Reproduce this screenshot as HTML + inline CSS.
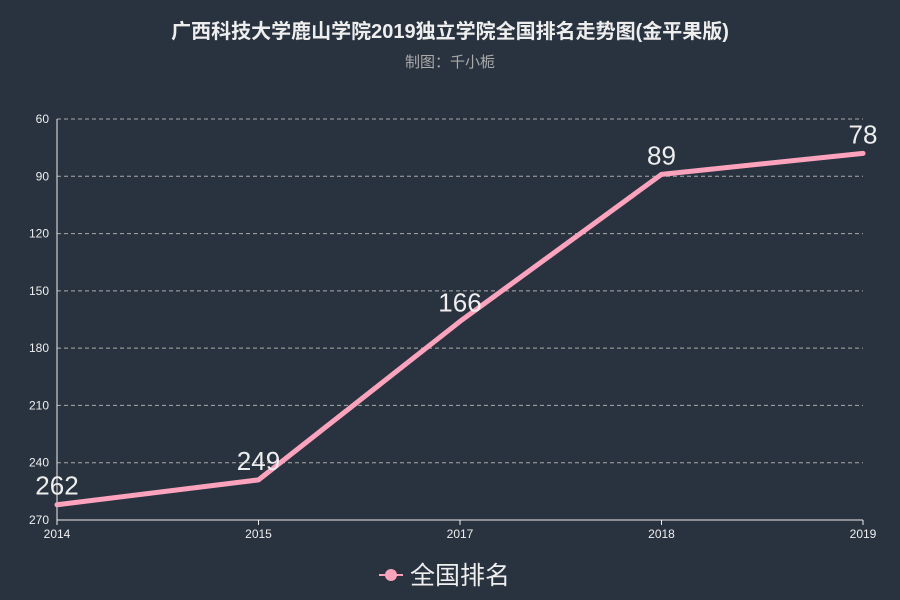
<!DOCTYPE html>
<html><head><meta charset="utf-8"><style>
body{margin:0;background:#29333f;}
svg{display:block;font-family:"Liberation Sans","Noto Sans CJK SC",sans-serif;}
</style></head><body>
<svg id="chart" width="900" height="600" viewBox="0 0 900 600">
<rect width="900" height="600" fill="#29333f"/>
<text x="450" y="38" text-anchor="middle" fill="#eeeeee" font-size="20" font-weight="bold">广西科技大学鹿山学院2019独立学院全国排名走势图(金平果版)</text>
<text x="450" y="67" text-anchor="middle" fill="#aaaaaa" font-size="15">制图：千小栀</text>
<g id="grid"></g>
<g id="axes"></g>
<g id="series"></g>
<g>
<line x1="379" y1="575" x2="403" y2="575" stroke="#ffa2bd" stroke-width="2"/>
<circle cx="391" cy="575" r="6" fill="#ffa2bd"/>
<text x="410" y="584" fill="#eeeeee" font-size="25">全国排名</text>
</g>
</svg>
<script>
const categories=["2014","2015","2017","2018","2019"];
const ranks=[262,249,166,89,78];
const yTicks=[60,90,120,150,180,210,240,270];
const NS="http://www.w3.org/2000/svg";
const plotL=57,plotR=863,plotT=119,plotB=520,yMin=60,yMax=270;
function xPos(i){return plotL+i*(plotR-plotL)/(categories.length-1);}
function yPos(v){return plotT+(v-yMin)/(yMax-yMin)*(plotB-plotT);}
function mk(tag,attrs,parent){const e=document.createElementNS(NS,tag);for(const k in attrs)e.setAttribute(k,attrs[k]);parent.appendChild(e);return e;}
const gridG=document.getElementById('grid'),axesG=document.getElementById('axes'),seriesG=document.getElementById('series');
yTicks.forEach(v=>{
 const y=yPos(v);
 if(v!==yMax){const l=mk('line',{x1:plotL,x2:plotR,y1:y,y2:y,stroke:'#aaaaaa','stroke-dasharray':'4,3','stroke-width':1},gridG);
 
 }
 const t=mk('text',{x:plotL-8,y:y+4,'text-anchor':'end',fill:'#eeeeee','font-size':12},axesG);
 t.textContent=v;
 
 
});
const ax=mk('line',{x1:plotL,x2:plotL,y1:plotT,y2:plotB,stroke:'#eeeeee'},axesG);


const bx=mk('line',{x1:plotL,x2:plotR,y1:plotB,y2:plotB,stroke:'#eeeeee'},axesG);


categories.forEach((c,i)=>{
 const x=xPos(i);
 const tk=mk('line',{x1:x,x2:x,y1:plotB,y2:plotB+5,stroke:'#eeeeee'},axesG);
 
 
 const t=mk('text',{x:x,y:plotB+18,'text-anchor':'middle',fill:'#eeeeee','font-size':12},axesG);
 t.textContent=c;
 
 
});
const pts=ranks.map((v,i)=>xPos(i)+','+yPos(v)).join(' ');
const pl=mk('polyline',{points:pts,fill:'none',stroke:'#ffa2bd','stroke-width':5,'stroke-linejoin':'round','stroke-linecap':'round'},seriesG);


ranks.forEach((v,i)=>{
 const t=mk('text',{x:xPos(i),y:yPos(v)-10,'text-anchor':'middle',fill:'#eeeeee','font-size':26},seriesG);
 t.textContent=v;
 
 
});
</script>
</body></html>
